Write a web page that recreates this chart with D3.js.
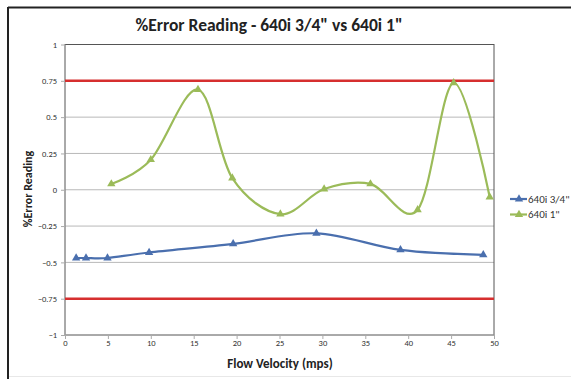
<!DOCTYPE html>
<html><head><meta charset="utf-8">
<script src="https://cdn.jsdelivr.net/npm/d3@7"></script>
<style>body{margin:0;background:#fff}svg{display:block}</style>
</head><body>
<script>
const title = '%Error Reading - 640i 3/4" vs 640i 1"';
const xTitle = "Flow Velocity (mps)";
const yTitle = "%Error Reading";
const xTicks = [0,5,10,15,20,25,30,35,40,45,50];
const yTicks = [-1,-0.75,-0.5,-0.25,0,0.25,0.5,0.75,1];
const limitLines = [0.75,-0.75];
const seriesNames = ['640i 3/4"', '640i 1"'];
const blueX = [1.3,2.45,4.95,9.8,19.6,29.3,39.1,48.75];
const blueY = [-0.47,-0.47,-0.47,-0.432,-0.372,-0.30,-0.414,-0.448];
const greenX = [5.4,10.0,15.5,19.5,25.1,30.2,35.6,41.1,45.3,49.5];
const greenY = [0.04,0.207,0.69,0.08,-0.168,0.005,0.04,-0.138,0.736,-0.05];
const colors = ["#4A6FAE","#9BBB59"];

const W=571,H=379;
const svg=d3.select("body").append("svg").attr("width",W).attr("height",H);
svg.append("rect").attr("width",W).attr("height",H).attr("fill","#fff");
// outer frame
svg.append("rect").attr("x",8).attr("y",7.5).attr("width",570).attr("height",369)
  .attr("fill","none").attr("stroke","#e8e8e8");
svg.append("line").attr("x1",8).attr("x2",W).attr("y1",7.5).attr("y2",7.5).attr("stroke","#222").attr("stroke-width",2);
svg.append("line").attr("x1",8).attr("x2",8).attr("y1",7).attr("y2",H).attr("stroke","#222").attr("stroke-width",2);

const x=d3.scaleLinear().domain([0,50]).range([65,494]);
const y=d3.scaleLinear().domain([-1,1]).range([335,44.5]);
const font="Calibri, Carlito, 'Liberation Sans', Arial, sans-serif";

// gridlines
svg.append("g").selectAll("line").data(yTicks.filter(v=>v>-1&&v<1)).join("line")
  .attr("x1",x(0)).attr("x2",x(50)).attr("y1",d=>y(d)).attr("y2",d=>y(d))
  .attr("stroke","#b8b8b8").attr("stroke-width",1);
// plot frame
svg.append("rect").attr("x",x(0)).attr("y",y(1)).attr("width",x(50)-x(0)).attr("height",y(-1)-y(1))
  .attr("fill","none").attr("stroke","#555").attr("stroke-width",1);
svg.append("line").attr("x1",x(0)).attr("x2",x(0)).attr("y1",y(1)).attr("y2",y(-1)).attr("stroke","#aaa");
svg.append("line").attr("x1",x(0)).attr("x2",x(50)).attr("y1",y(-1)).attr("y2",y(-1)).attr("stroke","#aaa");
// red limits
svg.append("g").selectAll("line").data(limitLines).join("line")
  .attr("x1",x(0)).attr("x2",x(50)).attr("y1",d=>y(d)).attr("y2",d=>y(d))
  .attr("stroke","#D62F2F").attr("stroke-width",2.5);

// axes
const yAxis=d3.axisLeft(y).tickValues(yTicks).tickSize(4).tickFormat(d=>d3.format("")(d));
const gy=svg.append("g").attr("transform",`translate(${x(0)},0)`).call(yAxis);
gy.select(".domain").remove();
gy.selectAll("line").attr("stroke","#aaa");
gy.selectAll("text").attr("font-family",font).attr("font-size",8.5).attr("fill","#333").attr("dx",-1);
const xAxis=d3.axisBottom(x).tickValues(xTicks).tickSize(4);
const gx=svg.append("g").attr("transform",`translate(0,${y(-1)})`).call(xAxis);
gx.select(".domain").remove();
gx.selectAll("line").attr("stroke","#aaa");
gx.selectAll("text").attr("font-family",font).attr("font-size",8.5).attr("fill","#333").attr("dy",4);

// series
const line=d3.line().curve(d3.curveCatmullRom.alpha(0)).x(d=>x(d[0])).y(d=>y(d[1]));
const sets=[d3.zip(blueX,blueY), d3.zip(greenX,greenY)];
const tri=d3.symbol().type(d3.symbolTriangle).size(30);
sets.forEach((pts,i)=>{
  svg.append("path").datum(pts).attr("d",line).attr("fill","none")
    .attr("stroke",colors[i]).attr("stroke-width",2.2);
  svg.append("g").selectAll("path").data(pts).join("path").attr("d",tri)
    .attr("transform",d=>`translate(${x(d[0])},${y(d[1])})`).attr("fill",colors[i]);
});

// legend
seriesNames.forEach((n,i)=>{
  const ly=199+i*15.5;
  svg.append("line").attr("x1",510).attr("x2",527).attr("y1",ly).attr("y2",ly)
    .attr("stroke",colors[i]).attr("stroke-width",2.2);
  svg.append("path").attr("d",tri).attr("transform",`translate(519,${ly})`).attr("fill",colors[i]);
  svg.append("text").attr("x",528).attr("y",ly+3.5).text(n).attr("font-family",font)
    .attr("font-size",11).attr("fill","#333");
});

// titles
svg.append("text").attr("x",269).attr("y",31).attr("text-anchor","middle").text(title)
  .attr("font-family",font).attr("font-size",17.5).attr("font-weight","bold").attr("fill","#222");
svg.append("text").attr("x",280).attr("y",368).attr("text-anchor","middle").text(xTitle)
  .attr("font-family",font).attr("font-size",13).attr("font-weight","bold").attr("fill","#222");
svg.append("text").attr("transform","translate(32,189) rotate(-90)").attr("text-anchor","middle").text(yTitle)
  .attr("font-family",font).attr("font-size",12).attr("font-weight","bold").attr("fill","#222");
</script>
</body></html>
